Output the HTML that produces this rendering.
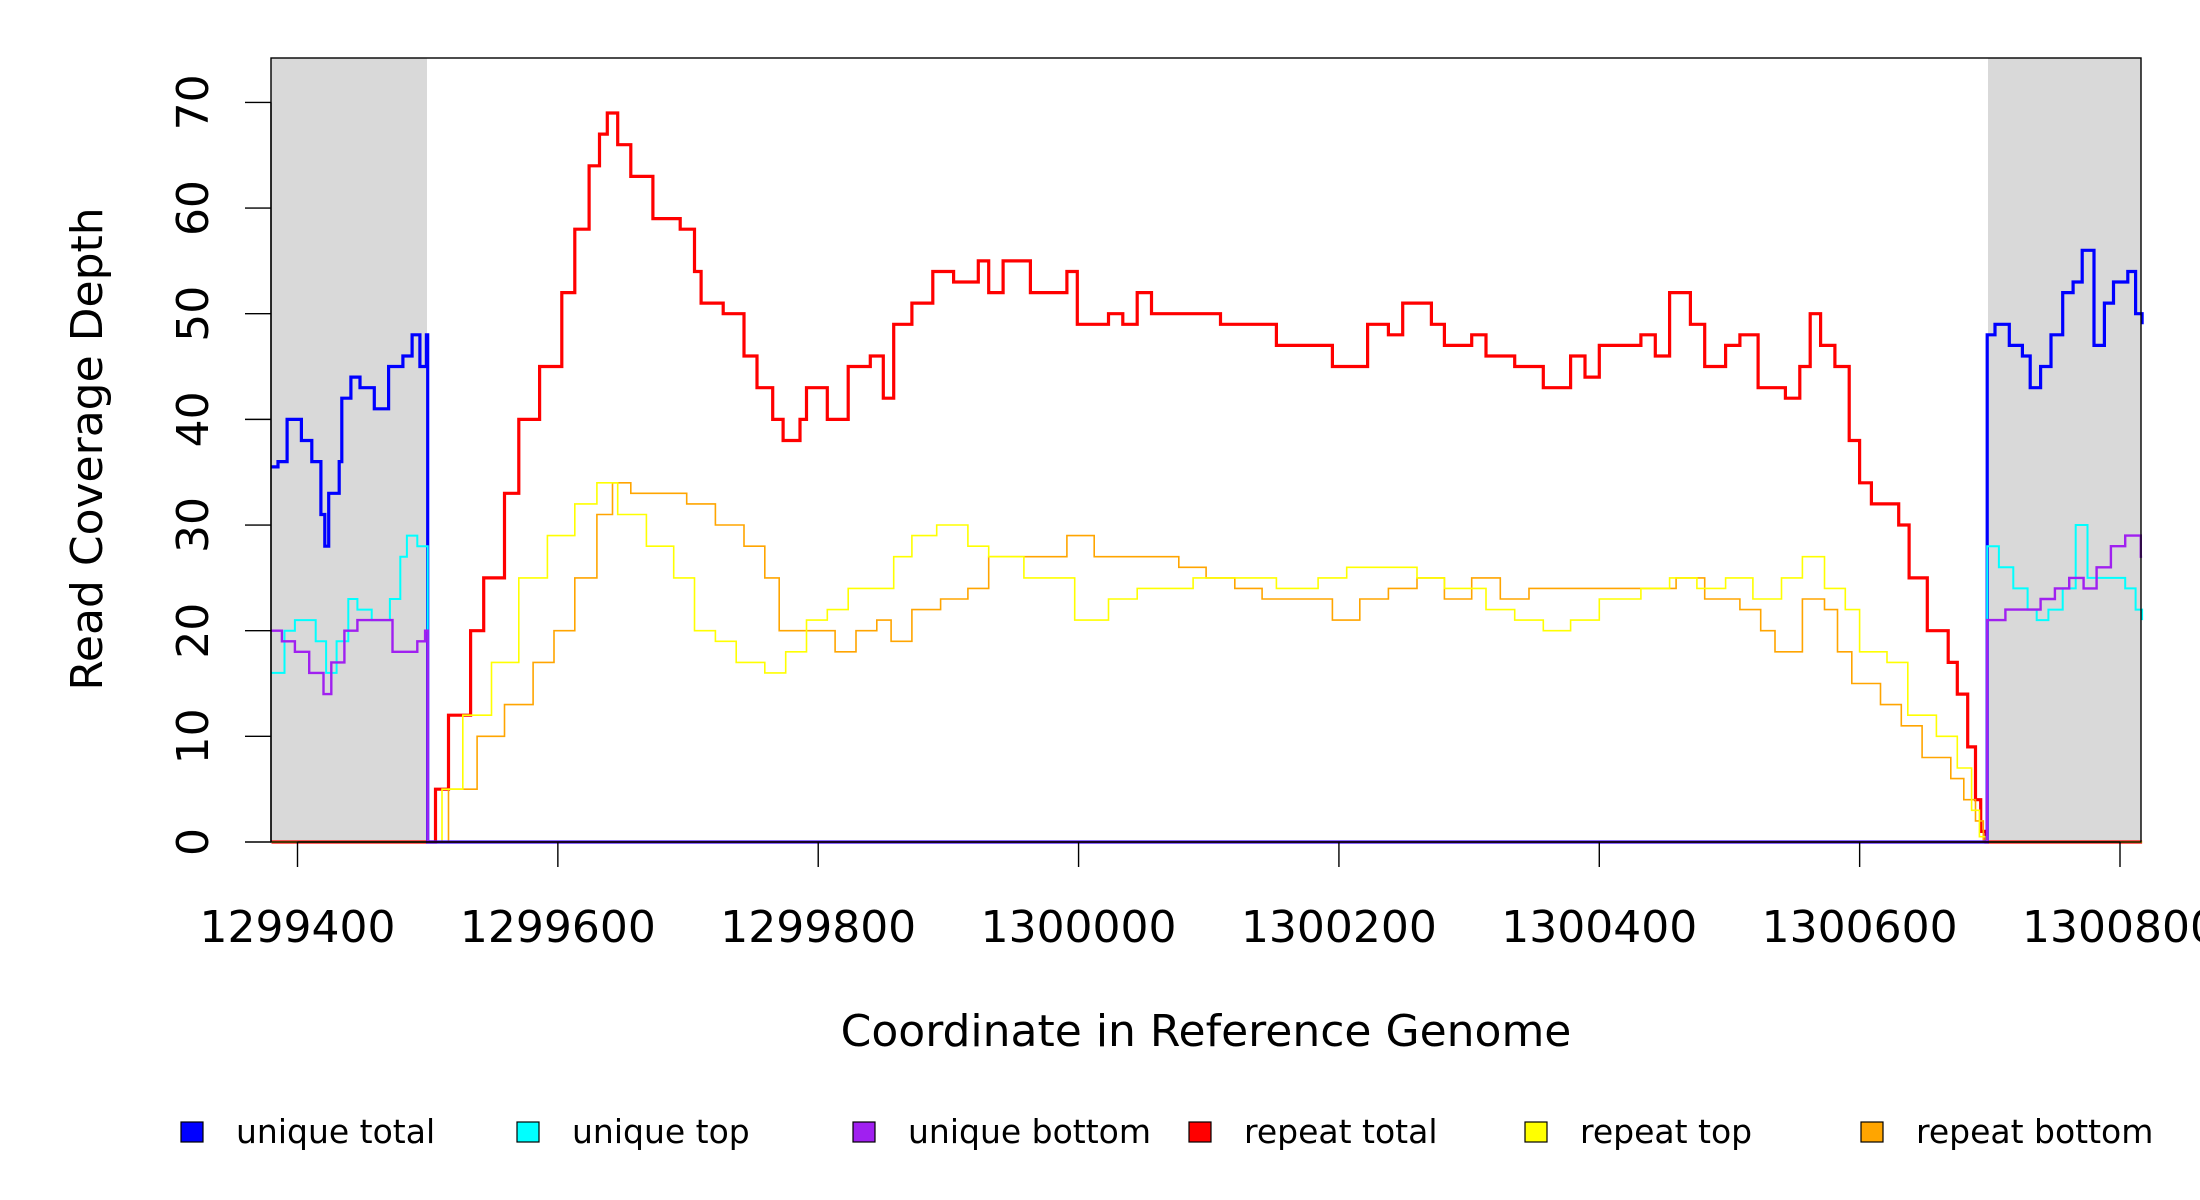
<!DOCTYPE html>
<html><head><meta charset="utf-8"><style>
html,body{margin:0;padding:0;background:#fff;}
svg{display:block;font-family:"DejaVu Sans","Liberation Sans",sans-serif;}
</style></head><body>
<svg id="chart" width="2200" height="1200" viewBox="0 0 2200 1200">
<rect x="271" y="58" width="156" height="784" fill="#d9d9d9"/>
<rect x="1988" y="58" width="153" height="784" fill="#d9d9d9"/>
<g id="series"></g>
<rect x="271" y="58" width="1870" height="784" fill="none" stroke="#000" stroke-width="1.4"/>
<g id="xaxis"></g>
<g id="yaxis"></g>
<text x="1206" y="1046" font-size="44" text-anchor="middle">Coordinate in Reference Genome</text>
<text transform="translate(102,449) rotate(-90)" font-size="44" text-anchor="middle">Read Coverage Depth</text>
<g id="legend"></g>
</svg>
<script>
const xTicks=[1299400,1299600,1299800,1300000,1300200,1300400,1300600,1300800];
const yTicks=[0,10,20,30,40,50,60,70];
const repTotalX=[1299380,1299499,1299506,1299516,1299533,1299543,1299559,1299570,1299586,1299603,1299613,1299624,1299632,1299638,1299646,1299656,1299673,1299694,1299705,1299710,1299727,1299743,1299753,1299765,1299773,1299786,1299791,1299807,1299823,1299840,1299850,1299858,1299872,1299888,1299904,1299923,1299931,1299942,1299963,1299991,1299999,1300023,1300034,1300045,1300056,1300077,1300109,1300131,1300152,1300184,1300195,1300222,1300238,1300249,1300271,1300281,1300302,1300313,1300335,1300357,1300367,1300378,1300389,1300400,1300421,1300432,1300443,1300454,1300470,1300481,1300497,1300508,1300522,1300543,1300554,1300562,1300570,1300581,1300592,1300600,1300609,1300630,1300638,1300652,1300668,1300675,1300683,1300689,1300693,1300697,1300817];
const repTotalY=[0,0,5,12,20,25,33,40,45,52,58,64,67,69,66,63,59,58,54,51,50,46,43,40,38,40,43,40,45,46,42,49,51,54,53,55,52,55,52,54,49,50,49,52,50,50,49,49,47,47,45,49,48,51,49,47,48,46,45,43,43,46,44,47,47,48,46,52,49,45,47,48,43,42,45,50,47,45,38,34,32,30,25,20,17,14,9,4,1,0,0];
const repTopX=[1299380,1299499,1299511,1299527,1299549,1299570,1299592,1299613,1299630,1299646,1299668,1299689,1299705,1299721,1299737,1299759,1299775,1299791,1299807,1299823,1299845,1299858,1299872,1299891,1299915,1299931,1299958,1299997,1300023,1300045,1300067,1300088,1300120,1300152,1300184,1300206,1300238,1300260,1300281,1300313,1300335,1300357,1300378,1300400,1300432,1300454,1300475,1300497,1300518,1300540,1300556,1300573,1300589,1300600,1300621,1300637,1300659,1300675,1300686,1300692,1300697,1300817];
const repTopY=[0,0,5,12,17,25,29,32,34,31,28,25,20,19,17,16,18,21,22,24,24,27,29,30,28,27,25,21,23,24,24,25,25,24,25,26,26,25,24,22,21,20,21,23,24,25,24,25,23,25,27,24,22,18,17,12,10,7,3,0.5,0,0];
const repBotX=[1299380,1299499,1299516,1299538,1299559,1299581,1299597,1299613,1299630,1299642,1299656,1299678,1299699,1299721,1299743,1299759,1299770,1299781,1299797,1299813,1299829,1299845,1299856,1299872,1299894,1299915,1299931,1299958,1299991,1300012,1300045,1300077,1300098,1300120,1300141,1300173,1300195,1300216,1300238,1300260,1300281,1300302,1300324,1300346,1300367,1300400,1300432,1300459,1300481,1300508,1300524,1300535,1300546,1300556,1300573,1300583,1300594,1300616,1300632,1300648,1300670,1300680,1300689,1300695,1300817];
const repBotY=[0,0,5,10,13,17,20,25,31,34,33,33,32,30,28,25,20,20,20,18,20,21,19,22,23,24,27,27,29,27,27,26,25,24,23,23,21,23,24,25,23,25,23,24,24,24,24,25,23,22,20,18,18,23,22,18,15,13,11,8,6,4,2,0,0];
const uniTotX=[1299380,1299385,1299392,1299403,1299411,1299418,1299421,1299424,1299432,1299434,1299441,1299448,1299459,1299470,1299481,1299488,1299494,1299499,1299500,1300698,1300704,1300715,1300725,1300731,1300739,1300747,1300756,1300764,1300771,1300780,1300788,1300795,1300806,1300812,1300817];
const uniTotY=[35.5,36,40,38,36,31,28,33,36,42,44,43,41,45,46,48,45,48,0,48,49,47,46,43,45,48,52,53,56,47,51,53,54,50,49];
const uniTopX=[1299380,1299390,1299398,1299414,1299422,1299430,1299439,1299446,1299457,1299471,1299479,1299484,1299492,1299499,1299500,1300698,1300707,1300718,1300729,1300736,1300745,1300756,1300766,1300775,1300788,1300804,1300812,1300817];
const uniTopY=[16,20,21,19,16,19,23,22,21,23,27,29,28,28,0,28,26,24,22,21,22,24,30,25,25,24,22,21];
const uniBotX=[1299380,1299388,1299398,1299409,1299420,1299426,1299436,1299446,1299463,1299473,1299484,1299492,1299498,1299500,1300698,1300712,1300729,1300739,1300750,1300761,1300772,1300782,1300793,1300804,1300816,1300817];
const uniBotY=[20,19,18,16,14,17,20,21,21,18,18,19,20,0,21,22,22,23,24,25,24,26,28,29,27,27];

const X0=1299400,X1=1300800,PX0=297.5,PX1=2120;
const Y0=842,Y70=102.4;
function sx(v){return PX0+(v-X0)*(PX1-PX0)/(X1-X0);}
function sy(v){return Y0-v*(Y0-Y70)/70;}
const NS="http://www.w3.org/2000/svg";
function stepPath(xs,ys){let d="M"+sx(xs[0]).toFixed(1)+","+sy(ys[0]).toFixed(1);
 for(let i=1;i<xs.length;i++){d+="H"+sx(xs[i]).toFixed(1)+"V"+sy(ys[i]).toFixed(1);}return d;}
const g=document.getElementById('series');
const defs=[
 [repTotalX,repTotalY,"#ff0000",3.2,"repeat-total-line"],
 [repBotX,repBotY,"#ffa500",1.6,"repeat-bottom-line"],
 [repTopX,repTopY,"#ffff00",1.6,"repeat-top-line"],
 [uniTotX,uniTotY,"#0000ff",3.2,"unique-total-line"],
 [uniTopX,uniTopY,"#00ffff",2,"unique-top-line"],
 [uniBotX,uniBotY,"#a020f0",2.4,"unique-bottom-line"]];
defs.forEach(s=>{const p=document.createElementNS(NS,'path');
 p.setAttribute('d',stepPath(s[0],s[1]));p.setAttribute('fill','none');
 p.setAttribute('stroke',s[2]);p.setAttribute('stroke-width',s[3]);
 
 
 g.appendChild(p);});
const xa=document.getElementById('xaxis');
const xl=document.createElementNS(NS,'line');
xl.setAttribute('x1',sx(xTicks[0]));xl.setAttribute('x2',sx(xTicks[xTicks.length-1]));
xl.setAttribute('y1',842);xl.setAttribute('y2',842);xl.setAttribute('stroke','#000');xl.setAttribute('stroke-width',1.4);


xa.appendChild(xl);
xTicks.forEach(t=>{const l=document.createElementNS(NS,'line');
 l.setAttribute('x1',sx(t));l.setAttribute('x2',sx(t));l.setAttribute('y1',842);l.setAttribute('y2',867);
 l.setAttribute('stroke','#000');l.setAttribute('stroke-width',1.4);
 
 
 xa.appendChild(l);
 const tx=document.createElementNS(NS,'text');tx.setAttribute('x',sx(t));tx.setAttribute('y',942);
 tx.setAttribute('font-size',44);tx.setAttribute('text-anchor','middle');tx.textContent=t;
 
 
 xa.appendChild(tx);});
const ya=document.getElementById('yaxis');
const yl=document.createElementNS(NS,'line');
yl.setAttribute('x1',271);yl.setAttribute('x2',271);yl.setAttribute('y1',sy(0));yl.setAttribute('y2',sy(70));
yl.setAttribute('stroke','#000');yl.setAttribute('stroke-width',1.4);


ya.appendChild(yl);
yTicks.forEach(t=>{const l=document.createElementNS(NS,'line');
 l.setAttribute('x1',245);l.setAttribute('x2',271);l.setAttribute('y1',sy(t));l.setAttribute('y2',sy(t));
 l.setAttribute('stroke','#000');l.setAttribute('stroke-width',1.4);
 
 
 ya.appendChild(l);
 const tx=document.createElementNS(NS,'text');
 tx.setAttribute('transform','translate(208,'+sy(t)+') rotate(-90)');
 tx.setAttribute('font-size',44);tx.setAttribute('text-anchor','middle');tx.textContent=t;
 
 
 ya.appendChild(tx);});
const legNames=["unique total","unique top","unique bottom","repeat total","repeat top","repeat bottom"];
const legColors=["#0000ff","#00ffff","#a020f0","#ff0000","#ffff00","#ffa500"];
const lg=document.getElementById('legend');
legNames.forEach((n,i)=>{const bx=181+i*336;
 const r=document.createElementNS(NS,'rect');r.setAttribute('x',bx);r.setAttribute('y',1122);
 r.setAttribute('width',22);r.setAttribute('height',20);r.setAttribute('fill',legColors[i]);
 r.setAttribute('stroke','#000');r.setAttribute('stroke-width',1.2);
 
 
 lg.appendChild(r);
 const tx=document.createElementNS(NS,'text');tx.setAttribute('x',bx+55);tx.setAttribute('y',1143);
 tx.setAttribute('font-size',33);tx.textContent=n;
 
 
 lg.appendChild(tx);});
</script>
</body></html>
